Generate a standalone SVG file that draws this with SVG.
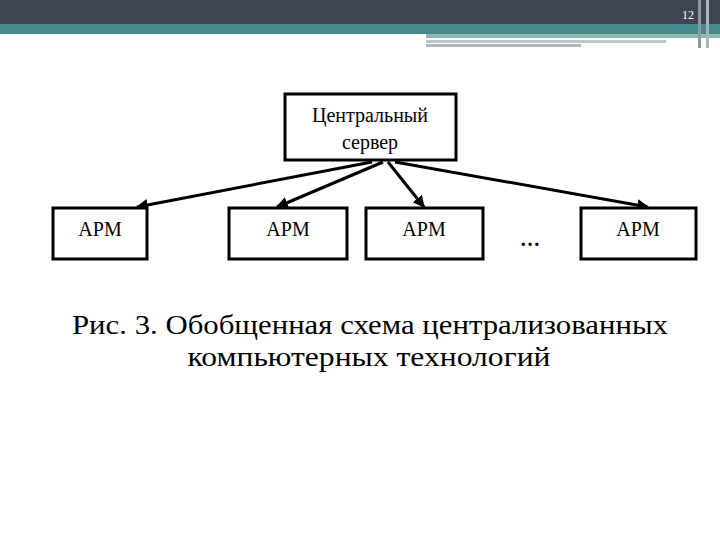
<svg xmlns="http://www.w3.org/2000/svg" width="720" height="540" viewBox="0 0 720 540">
<style>
.b{fill:#fff;stroke:#000;stroke-width:3}
.t{font-family:"Liberation Serif",serif;font-size:20px;text-anchor:middle;fill:#000}
.c{font-family:"Liberation Serif",serif;font-size:27px;text-anchor:middle;fill:#000}
.a{stroke:#000;stroke-width:3;fill:none;marker-end:url(#ah)}
</style>
<defs><marker id="ah" viewBox="0 0 10 10" refX="9" refY="5" markerWidth="4" markerHeight="4" orient="auto"><path d="M0,0L10,5L0,10z" fill="#000"/></marker></defs>
<rect width="720" height="540" fill="#fff"/>
<g id="header">
<rect x="0" y="0" width="720" height="24" fill="#3f4453"/>
<rect x="0" y="24" width="720" height="10" fill="#468a8c"/>
<rect x="426" y="34" width="294" height="4" fill="#8fb5b5"/>
<rect x="426" y="40" width="240" height="3" fill="#b8c8c8"/>
<rect x="426" y="44" width="155" height="3" fill="#aab8b8"/>
<rect x="698" y="0" width="3" height="48" fill="#8a9aa0"/>
<rect x="706" y="0" width="3" height="48" fill="#aab4b8"/>
<text x="688" y="19" font-family="Liberation Serif,serif" font-size="12" fill="#fff" text-anchor="middle">12</text>
</g>
<g id="connectors">
<line class="a" x1="372" y1="162" x2="137" y2="207"/>
<line class="a" x1="383" y1="162" x2="277" y2="207"/>
<line class="a" x1="388" y1="162" x2="424" y2="207"/>
<line class="a" x1="395" y1="162" x2="648" y2="207"/>
</g>
<g id="server"><rect class="b" x="285" y="94" width="171" height="66"/><text class="t" x="370" y="122">Центральный</text><text class="t" x="370" y="149">сервер</text></g>
<g id="apm1"><rect class="b" x="53" y="208" width="94" height="51"/><text class="t" x="100" y="236">АРМ</text></g>
<g id="apm2"><rect class="b" x="229" y="208" width="118" height="51"/><text class="t" x="288" y="236">АРМ</text></g>
<g id="apm3"><rect class="b" x="366" y="208" width="117" height="51"/><text class="t" x="424" y="236">АРМ</text></g>
<g id="dots"><text class="t" x="530" y="246" font-size="26" font-weight="bold">…</text></g>
<g id="apm4"><rect class="b" x="581" y="208" width="115" height="51"/><text class="t" x="638" y="236">АРМ</text></g>
<text class="c" x="370" y="334" textLength="596" lengthAdjust="spacingAndGlyphs">Рис. 3. Обобщенная схема централизованных</text>
<text class="c" x="369" y="366" textLength="363" lengthAdjust="spacingAndGlyphs">компьютерных технологий</text>
</svg>
